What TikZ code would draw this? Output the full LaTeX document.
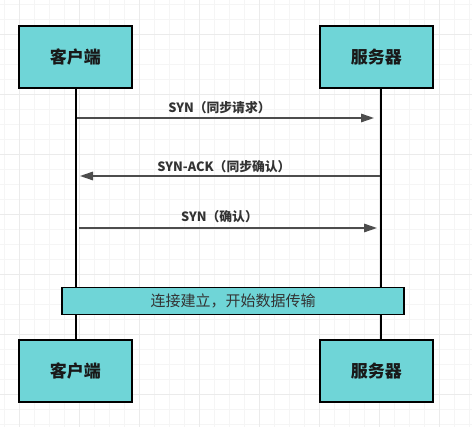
\documentclass[tikz,border=0pt]{standalone}
\usepackage{fontspec}
\newfontfamily\cjk{Noto Sans CJK SC}
\usetikzlibrary{arrows.meta}
\definecolor{boxfill}{HTML}{6FD5D7}
\definecolor{msggray}{HTML}{4D4D4D}
\definecolor{gridfine}{HTML}{F5F5F5}
\definecolor{gridbold}{HTML}{EBEBEB}
\tikzset{
  actor/.style={draw=black, line width=2pt, fill=boxfill, minimum width=113pt,
    minimum height=62pt, inner sep=0pt, font=\cjk\bfseries\fontsize{17}{17}\selectfont, text=black!90},
  lifeline/.style={draw=black, line width=1.7pt},
  msg/.style={draw=msggray, line width=1.5pt, -{Triangle[length=13pt,width=8.5pt]}},
  msglabel/.style={font=\cjk\bfseries\fontsize{12.8}{13}\selectfont, text=black!80, inner sep=0pt},
  banner/.style={draw=black, line width=1.6pt, fill=boxfill, minimum width=342pt,
    minimum height=27pt, inner sep=0pt, font=\cjk\fontsize{15}{15}\selectfont, text=black!80}
}
\begin{document}
\begin{tikzpicture}[x=1pt,y=-1pt]
  \useasboundingbox (0,0) rectangle (472,427);
  \fill[white] (0,0) rectangle (472,427);
  \foreach \gx in {4,19,...,469} \draw[gridfine, line width=1pt] (\gx,0) -- (\gx,427);
  \foreach \gy in {5,20,...,425} \draw[gridfine, line width=1pt] (0,\gy) -- (472,\gy);
  \foreach \gx in {19,79,...,439} \draw[gridbold, line width=1pt] (\gx,0) -- (\gx,427);
  \foreach \gy in {35,95,...,395} \draw[gridbold, line width=1pt] (0,\gy) -- (472,\gy);

  \coordinate (ctop) at (76,88);
  \coordinate (cbot) at (76,340);
  \coordinate (stop) at (380.7,88);
  \coordinate (sbot) at (380.7,340);
  \draw[lifeline] (ctop) -- (cbot);
  \draw[lifeline] (stop) -- (sbot);

  \node[actor] (client) at (75.3,57) {客户端};
  \node[actor] (server) at (376.3,57) {服务器};
  \node[actor] (client2) at (75.3,370.7) {客户端};
  \node[actor] (server2) at (376.3,370.7) {服务器};

  \coordinate (m1a) at (77,118);
  \coordinate (m1b) at (374,118);
  \coordinate (m2a) at (380,176);
  \coordinate (m2b) at (80,176);
  \coordinate (m3a) at (79,228);
  \coordinate (m3b) at (377,228);
  \draw[msg] (m1a) -- (m1b);
  \draw[msg] (m2a) -- (m2b);
  \draw[msg] (m3a) -- (m3b);
  \node[msglabel] (l1) at (219.5,108) {SYN（同步请求）};
  \node[msglabel] (l2) at (224,166.5) {SYN-ACK（同步确认）};
  \node[msglabel] (l3) at (219.5,217) {SYN（确认）};

  \node[banner] (est) at (233,301) {连接建立，开始数据传输};
\end{tikzpicture}
\end{document}
